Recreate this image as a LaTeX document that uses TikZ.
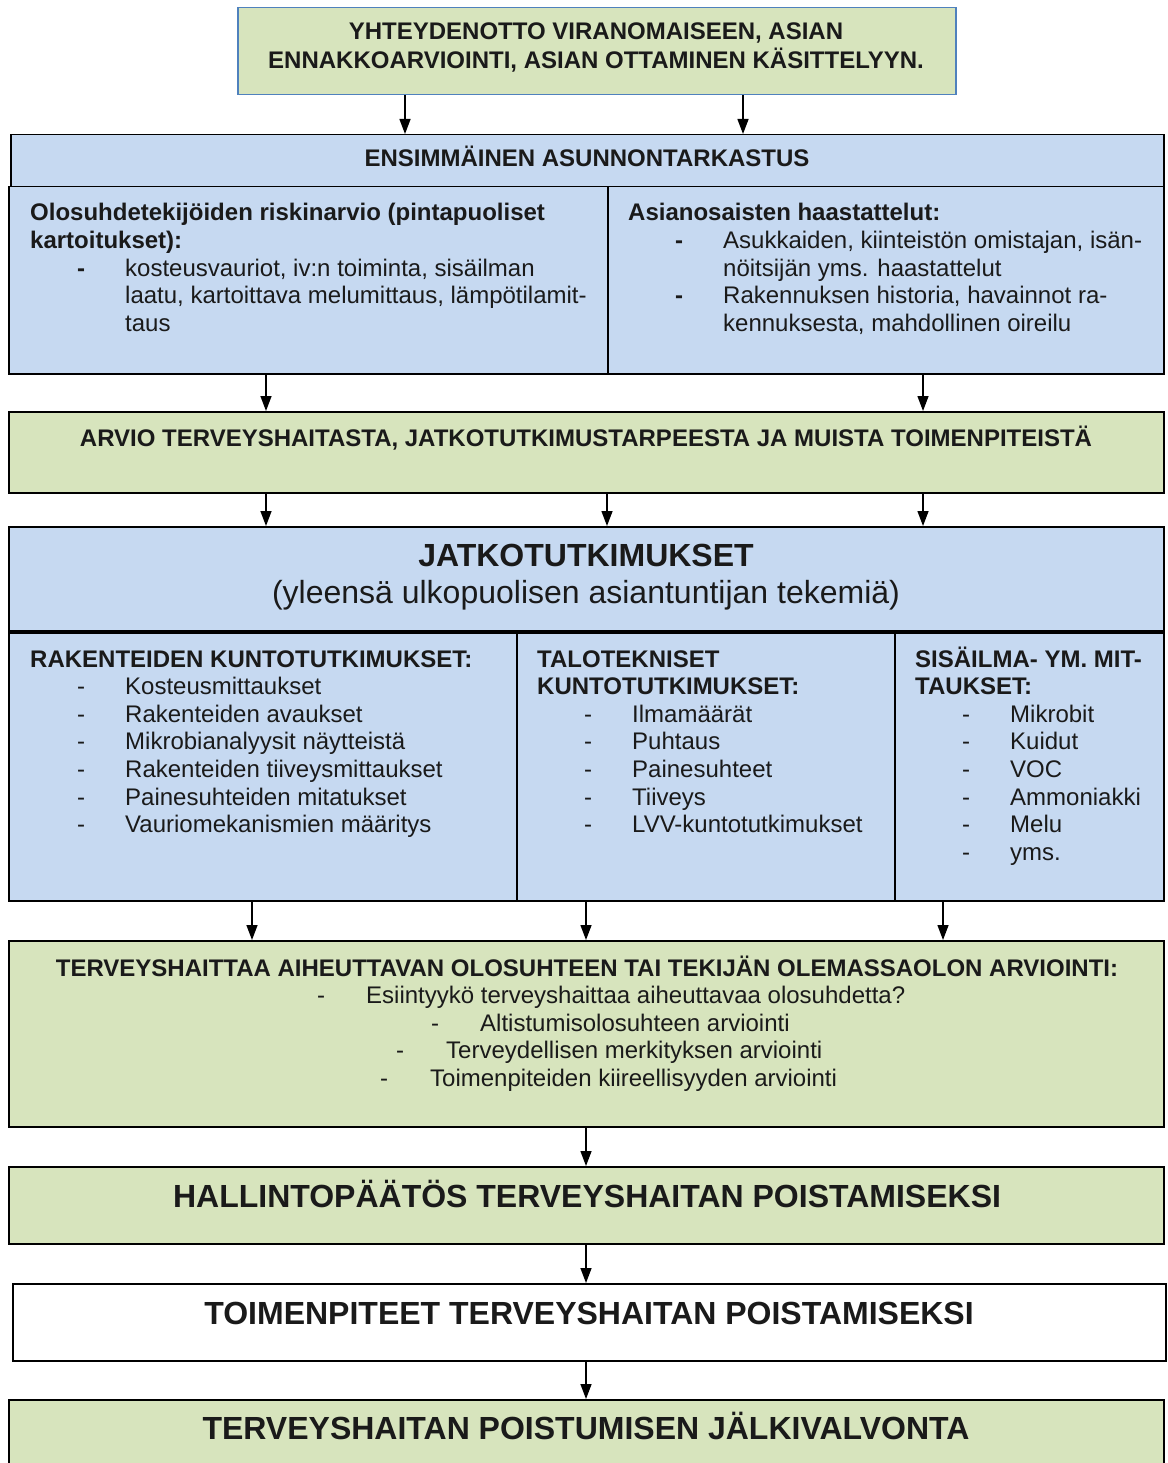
\documentclass[tikz,border=0pt]{standalone}
\usepackage{fontspec}
\setmainfont{Liberation Sans}
\usetikzlibrary{arrows.meta}
\definecolor{grn}{HTML}{D7E4BD}
\definecolor{blu}{HTML}{C6D9F1}
\definecolor{bbord}{HTML}{4F81BD}
\definecolor{ink}{HTML}{1A1A1A}
\newcommand{\lib}[1]{\makebox[95pt][l]{\hspace*{47pt}\textbf{-}}#1}
\newcommand{\lin}[1]{\makebox[95pt][l]{\hspace*{47pt}-}#1}
\newcommand{\cont}[1]{\hspace*{95pt}#1}
\newcommand{\blkl}[1]{\begin{tabular}[t]{@{}l@{}}#1\end{tabular}}
\newcommand{\blkc}[1]{\begin{tabular}[t]{@{}c@{}}#1\end{tabular}}
\begin{document}
\begin{tikzpicture}[x=1pt,y=-1pt,
  box/.style={draw=black,line width=1.5pt,inner sep=0pt,anchor=north west},
  gbox/.style={box,fill=grn},
  bbox/.style={box,fill=blu},
  wbox/.style={box,fill=white},
  txt/.style={inner sep=0pt,text=ink,font=\fontsize{24}{27.6}\selectfont},
  big/.style={inner sep=0pt,text=ink,font=\fontsize{32}{36.8}\selectfont},
  arr/.style={line width=1.4pt,-{Triangle[length=15pt,width=11pt]}}]
\useasboundingbox (0,0) rectangle (1167,1463);
\fill[white] (0,0) rectangle (1167,1463);
\clip (0,0) rectangle (1167,1463);

% boxes
\node[gbox,draw=bbord,minimum width=718pt,minimum height=87pt] (b1) at (237,7) {};
\node[bbox,minimum width=1153pt,minimum height=52pt] (b2h) at (10,134) {};
\node[bbox,minimum width=599pt,minimum height=187pt] (b2l) at (8,186) {};
\node[bbox,minimum width=556pt,minimum height=187pt] (b2r) at (607,186) {};
\node[gbox,minimum width=1155pt,minimum height=81pt] (b3) at (8,411) {};
\node[bbox,minimum width=1155pt,minimum height=104pt] (b4h) at (8,526) {};
\node[bbox,minimum width=508pt,minimum height=268pt] (b4l) at (8,632) {};
\node[bbox,minimum width=378pt,minimum height=268pt] (b4m) at (516,632) {};
\node[bbox,minimum width=269pt,minimum height=268pt] (b4r) at (894,632) {};
\node[gbox,minimum width=1155pt,minimum height=186pt] (b5) at (8,940) {};
\node[gbox,minimum width=1155pt,minimum height=77pt] (b6) at (8,1166) {};
\node[wbox,minimum width=1153pt,minimum height=77pt] (b7) at (12,1283) {};
\node[gbox,minimum width=1155pt,minimum height=90pt] (b8) at (8,1399) {};

% texts
\node[txt,anchor=base,font=\fontsize{24}{27}\selectfont\bfseries] (t1) at (596,40)
  {\blkc{YHTEYDENOTTO VIRANOMAISEEN, ASIAN\\ENNAKKOARVIOINTI, ASIAN OTTAMINEN KÄSITTELYYN.}};
\node[txt,anchor=base,font=\fontsize{24}{27}\selectfont\bfseries] (t2) at (587,167) {ENSIMMÄINEN ASUNNONTARKASTUS};
\node[txt,anchor=base west] (t2l) at (30,221) {\blkl{%
  \textbf{Olosuhdetekijöiden riskinarvio (pintapuoliset}\\
  \textbf{kartoitukset):}\\
  \lib{kosteusvauriot, iv:n toiminta, sisäilman}\\
  \cont{laatu, kartoittava melumittaus, lämpötilamit-}\\
  \cont{taus}}};
\node[txt,anchor=base west] (t2r) at (628,221) {\blkl{%
  \textbf{Asianosaisten haastattelut:}\\
  \lib{Asukkaiden, kiinteistön omistajan, isän-}\\
  \cont{nöitsijän yms. haastattelut}\\
  \lib{Rakennuksen historia, havainnot ra-}\\
  \cont{kennuksesta, mahdollinen oireilu}}};
\node[txt,anchor=base,font=\fontsize{24}{27}\selectfont\bfseries] (t3) at (586,446)
  {ARVIO TERVEYSHAITASTA, JATKOTUTKIMUSTARPEESTA JA MUISTA TOIMENPITEISTÄ};
\node[big,anchor=base,font=\fontsize{32}{36}\selectfont\bfseries] (t4a) at (586,566) {JATKOTUTKIMUKSET};
\node[big,anchor=base] (t4b) at (586,603) {(yleensä ulkopuolisen asiantuntijan tekemiä)};
\node[txt,anchor=base west] (t4l) at (30,667) {\blkl{%
  \textbf{RAKENTEIDEN KUNTOTUTKIMUKSET:}\\
  \lin{Kosteusmittaukset}\\
  \lin{Rakenteiden avaukset}\\
  \lin{Mikrobianalyysit näytteistä}\\
  \lin{Rakenteiden tiiveysmittaukset}\\
  \lin{Painesuhteiden mitatukset}\\
  \lin{Vauriomekanismien määritys}}};
\node[txt,anchor=base west] (t4m) at (537,667) {\blkl{%
  \textbf{TALOTEKNISET}\\
  \textbf{KUNTOTUTKIMUKSET:}\\
  \lin{Ilmamäärät}\\
  \lin{Puhtaus}\\
  \lin{Painesuhteet}\\
  \lin{Tiiveys}\\
  \lin{LVV-kuntotutkimukset}}};
\node[txt,anchor=base west] (t4r) at (915,667) {\blkl{%
  \textbf{SISÄILMA- YM. MIT-}\\
  \textbf{TAUKSET:}\\
  \lin{Mikrobit}\\
  \lin{Kuidut}\\
  \lin{VOC}\\
  \lin{Ammoniakki}\\
  \lin{Melu}\\
  \lin{yms.}}};
\node[txt,anchor=base,font=\fontsize{24}{27}\selectfont\bfseries] (t5) at (587,976)
  {TERVEYSHAITTAA AIHEUTTAVAN OLOSUHTEEN TAI TEKIJÄN OLEMASSAOLON ARVIOINTI:};
\node[txt,anchor=base west] (d51) at (317,1003) {-};
\node[txt,anchor=base west] (e51) at (366,1003) {Esiintyykö terveyshaittaa aiheuttavaa olosuhdetta?};
\node[txt,anchor=base west] (d52) at (431,1031) {-};
\node[txt,anchor=base west] (e52) at (480,1031) {Altistumisolosuhteen arviointi};
\node[txt,anchor=base west] (d53) at (396,1058) {-};
\node[txt,anchor=base west] (e53) at (446,1058) {Terveydellisen merkityksen arviointi};
\node[txt,anchor=base west] (d54) at (380,1086) {-};
\node[txt,anchor=base west] (e54) at (430,1086) {Toimenpiteiden kiireellisyyden arviointi};
\node[big,anchor=base,font=\fontsize{32}{36}\selectfont\bfseries] (t6) at (587,1207) {HALLINTOPÄÄTÖS TERVEYSHAITAN POISTAMISEKSI};
\node[big,anchor=base,font=\fontsize{32}{36}\selectfont\bfseries] (t7) at (589,1324) {TOIMENPITEET TERVEYSHAITAN POISTAMISEKSI};
\node[big,anchor=base,font=\fontsize{32}{36}\selectfont\bfseries] (t8) at (586,1439) {TERVEYSHAITAN POISTUMISEN JÄLKIVALVONTA};

% arrow columns
\foreach \n/\x in {a/405,b/743,c/266,d/923,e/607,f/252,g/586,h/943}
  \coordinate (x\n) at (\x,0);
\draw[arr] (b1.south -| xa) -- (b2h.north -| xa);
\draw[arr] (b1.south -| xb) -- (b2h.north -| xb);
\draw[arr] (b2l.south -| xc) -- (b3.north -| xc);
\draw[arr] (b2r.south -| xd) -- (b3.north -| xd);
\draw[arr] (b3.south -| xc) -- (b4h.north -| xc);
\draw[arr] (b3.south -| xe) -- (b4h.north -| xe);
\draw[arr] (b3.south -| xd) -- (b4h.north -| xd);
\draw[arr] (b4l.south -| xf) -- (b5.north -| xf);
\draw[arr] (b4m.south -| xg) -- (b5.north -| xg);
\draw[arr] (b4r.south -| xh) -- (b5.north -| xh);
\draw[arr] (b5.south -| xg) -- (b6.north -| xg);
\draw[arr] (b6.south -| xg) -- (b7.north -| xg);
\draw[arr] (b7.south -| xg) -- (b8.north -| xg);
\end{tikzpicture}
\end{document}
